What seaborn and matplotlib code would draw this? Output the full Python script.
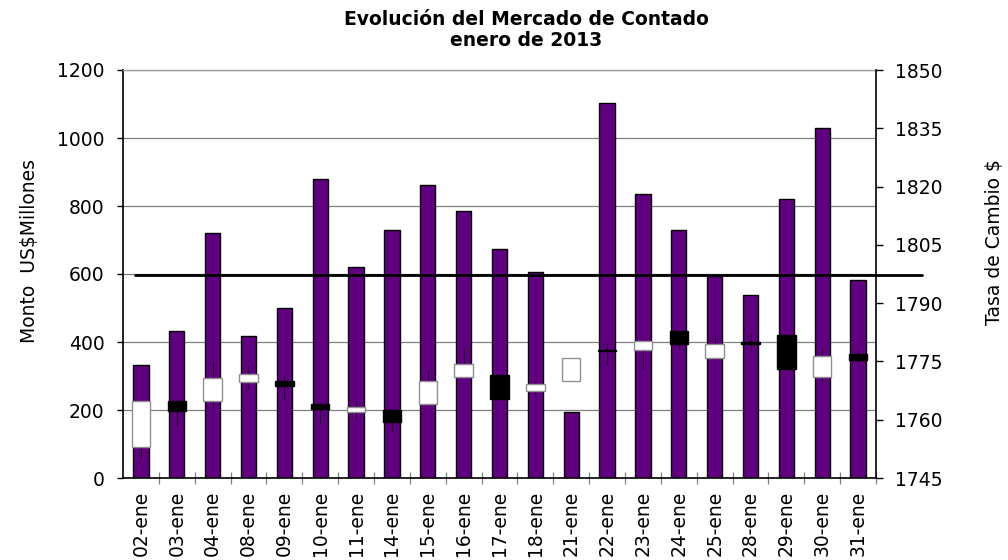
import matplotlib
matplotlib.use("Agg")
import matplotlib.pyplot as plt
import seaborn as sns
import pandas as pd
import numpy as np

# ---- data ----
fechas = ["02-ene", "03-ene", "04-ene", "08-ene", "09-ene", "10-ene", "11-ene",
          "14-ene", "15-ene", "16-ene", "17-ene", "18-ene", "21-ene", "22-ene",
          "23-ene", "24-ene", "25-ene", "28-ene", "29-ene", "30-ene", "31-ene"]
monto = [332, 433, 722, 417, 499, 880, 620, 730, 863, 784, 674, 606, 193, 1104,
         835, 729, 594, 539, 820, 1030, 582]
apertura = [1752.9, 1764.9, 1764.9, 1769.8, 1770.0, 1764.0, 1761.9, 1762.5, 1764.0, 1770.9,
            1771.5, 1767.3, 1769.9, 1777.9, 1777.9, 1782.8, 1776.0, 1779.8, 1781.7, 1770.9, 1776.9]
cierre = [1764.9, 1762.3, 1770.7, 1771.8, 1768.8, 1762.8, 1763.3, 1759.5, 1770.0, 1774.3,
          1765.3, 1769.2, 1775.8, 1777.7, 1780.3, 1779.4, 1779.4, 1779.6, 1773.0, 1776.4, 1775.3]
maximo = [1764.9, 1764.9, 1775.2, 1773.9, 1771.5, 1764.0, 1764.8, 1762.5, 1772.8, 1778.6,
          1771.5, 1769.8, 1775.8, 1779.8, 1780.3, 1782.8, 1781.8, 1782.2, 1781.7, 1778.4, 1777.9]
minimo = [1750.1, 1758.5, 1762.9, 1767.9, 1765.3, 1759.1, 1760.2, 1756.9, 1764.0, 1770.9,
          1765.3, 1766.4, 1769.9, 1774.1, 1773.0, 1778.3, 1776.0, 1777.9, 1773.0, 1769.1, 1774.9]
promedio = 597
left_ticks = [0, 200, 400, 600, 800, 1000, 1200]
right_ticks = [1745, 1760, 1775, 1790, 1805, 1820, 1835, 1850]

titulo = "Evolución del Mercado de Contado\nenero de 2013"
ylabel_izq = "Monto  US$Millones"
ylabel_der = "Tasa de Cambio $"

# ---- style ----
sns.set_style("white")
plt.rcParams['font.family'] = ['DejaVu Sans']
plt.rcParams['text.color'] = 'black'
plt.rcParams['axes.labelcolor'] = 'black'
plt.rcParams['xtick.color'] = 'black'
plt.rcParams['ytick.color'] = 'black'
FS = 13.5

fig = plt.figure(figsize=(10.08, 5.6), dpi=100)
ax = fig.add_axes([123/1008, 1-478/560, (876-123)/1008, (478-70)/560])

df = pd.DataFrame({"fecha": fechas, "monto": monto})
sns.barplot(data=df, x="fecha", y="monto", color="#600080", saturation=1,
            width=0.43, edgecolor="black", linewidth=1.0, ax=ax, zorder=2)

ax.set_ylim(0, 1200)
ax.set_xlim(-0.5, len(fechas) - 0.5)
ax.set_yticks(left_ticks)
ax.set_yticklabels([str(t) for t in left_ticks], fontsize=FS, color="black")
ax.yaxis.grid(True, color="#808080", linewidth=0.9, zorder=0)
ax.set_axisbelow(True)
ax.tick_params(axis="y", direction="out", length=4.3, width=1, color="black", pad=9, left=True)
ax.set_xticks(range(len(fechas)))
ax.set_xticklabels(fechas, rotation=90, fontsize=FS, color="black")
ax.set_xticks(np.arange(len(fechas)) + 0.5, minor=True)
ax.tick_params(axis="x", which="major", length=0, pad=9)
ax.tick_params(axis="x", which="minor", direction="inout", length=8.5, width=0.9,
               color="#808080", bottom=True)
ax.set_xlabel("")
ax.set_ylabel(ylabel_izq, fontsize=FS, color="black")
ax.yaxis.set_label_coords((39-123)/753, (478-251)/408)

for s in ["left", "bottom"]:
    ax.spines[s].set_color("black")
    ax.spines[s].set_linewidth(1.2)
ax.spines["top"].set_color("#a0a0a0")
ax.spines["top"].set_linewidth(1.0)
ax.spines["right"].set_visible(False)

# ---- twin axis with candles ----
ax2 = ax.twinx()
ax2.set_ylim(1745, 1850)
ax2.set_yticks(right_ticks)
ax2.set_yticklabels([str(t) for t in right_ticks], fontsize=FS, color="black")
ax2.tick_params(axis="y", direction="out", length=5, width=1, color="black", pad=9, right=True)
ax2.spines["right"].set_color("black")
ax2.spines["right"].set_linewidth(1.2)
for s in ["left", "top", "bottom"]:
    ax2.spines[s].set_visible(False)
ax2.set_ylabel(ylabel_der, fontsize=FS, rotation=90, color="black")
ax2.yaxis.set_label_coords((985-123)/753, (478-242)/408)

x = np.arange(len(fechas))
op = np.array(apertura); cl = np.array(cierre)
hi = np.array(maximo); lo = np.array(minimo)
ax2.vlines(x, lo, hi, color="#1a0020", linewidth=0.8, zorder=3)
up = cl >= op
bottoms = np.minimum(op, cl)
heights = np.maximum(np.abs(cl - op), 0.35)
ax2.bar(x[up], heights[up], bottom=bottoms[up], width=0.51, color="white",
        edgecolor="#909090", linewidth=1.0, zorder=4)
ax2.bar(x[~up], heights[~up], bottom=bottoms[~up], width=0.51, color="black",
        edgecolor="black", linewidth=1.0, zorder=4)

# reference line (extends past plot area)
ax.axhline(promedio, xmin=(135-123)/753, xmax=(922-123)/753, color="black",
           linewidth=2.0, zorder=5, clip_on=False)

fig.text(526/1008, 1-30/560, titulo, ha="center", va="center", fontsize=FS,
         fontweight="bold", linespacing=1.08, color="black")

fig.savefig("out.png", dpi=100)
